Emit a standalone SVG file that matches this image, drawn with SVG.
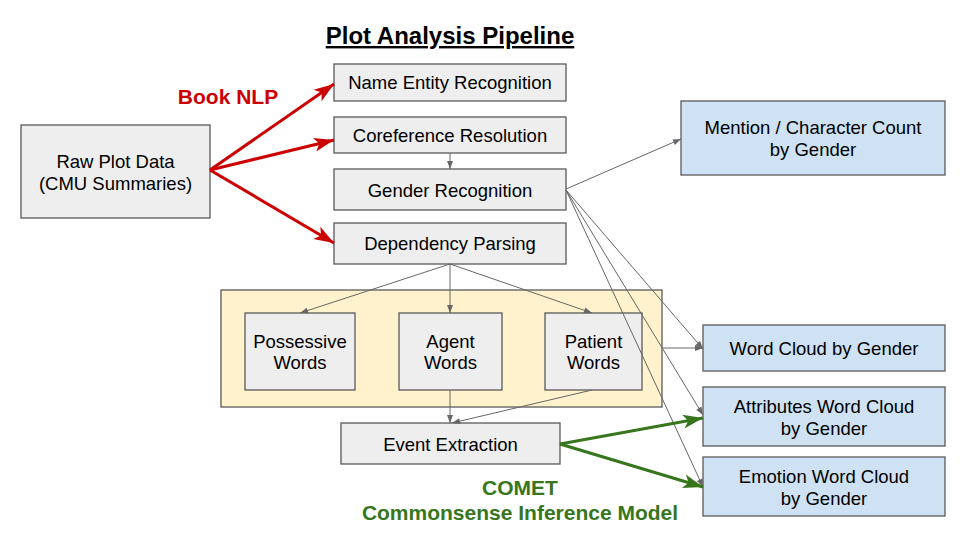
<svg xmlns="http://www.w3.org/2000/svg" width="960" height="540" viewBox="0 0 960 540">
<defs>
<style>
.n{fill:#eeeeee;stroke:#595959;stroke-width:1.3}
.b{fill:#cfe2f3;stroke:#595959;stroke-width:1.3}
.t{font-family:"Liberation Sans",Arial,sans-serif;font-size:18.5px;fill:#000;text-anchor:middle}
.g{stroke:#666;stroke-width:1;fill:none}
.r{stroke:#cc0000;stroke-width:3;fill:none}
.gr{stroke:#38761d;stroke-width:3;fill:none}
.lb{font-family:"Liberation Sans",Arial,sans-serif;font-size:21px;font-weight:bold;text-anchor:middle}
</style>
<marker id="ag" markerWidth="10" markerHeight="10" refX="9" refY="5" orient="auto" markerUnits="userSpaceOnUse"><path d="M1,2 L9,5 L1,8 Z" fill="#666"/></marker>
<marker id="ar" markerWidth="24" markerHeight="20" refX="22" refY="10" orient="auto" markerUnits="userSpaceOnUse"><path d="M2,3 L22,10 L2,17 L7,10 Z" fill="#cc0000"/></marker>
<marker id="agr" markerWidth="24" markerHeight="20" refX="22" refY="10" orient="auto" markerUnits="userSpaceOnUse"><path d="M2,3 L22,10 L2,17 L7,10 Z" fill="#38761d"/></marker>
</defs>
<rect width="960" height="540" fill="#fff"/>
<text x="450" y="44" font-family="Liberation Sans,Arial,sans-serif" font-size="24" font-weight="bold" text-anchor="middle" text-decoration="underline">Plot Analysis Pipeline</text>
<rect x="221" y="290" width="441" height="117" fill="#fff2cc" stroke="#595959" stroke-width="1.3"/>
<text class="lb" x="228" y="104" fill="#cc0000">Book NLP</text>
<text class="lb" x="520" y="495" fill="#38761d">COMET</text>
<text class="lb" x="520" y="520" fill="#38761d">Commonsense Inference Model</text>
<g id="raw"><rect class="n" x="21" y="125" width="189" height="93"/><text class="t" x="115.5" y="168">Raw Plot Data</text><text class="t" x="115.5" y="190">(CMU Summaries)</text></g>
<g id="ner"><rect class="n" x="334" y="64" width="232" height="37"/><text class="t" x="450" y="89">Name Entity Recognition</text></g>
<g id="coref"><rect class="n" x="334" y="117" width="232" height="36"/><text class="t" x="450" y="142">Coreference Resolution</text></g>
<g id="gender"><rect class="n" x="334" y="169" width="232" height="41"/><text class="t" x="450" y="197">Gender Recognition</text></g>
<g id="dep"><rect class="n" x="334" y="223" width="232" height="41"/><text class="t" x="450" y="250">Dependency Parsing</text></g>
<g id="poss"><rect class="n" x="245" y="313" width="110" height="77"/><text class="t" x="300" y="348">Possessive</text><text class="t" x="300" y="369">Words</text></g>
<g id="agent"><rect class="n" x="399" y="313" width="103" height="77"/><text class="t" x="450.5" y="348">Agent</text><text class="t" x="450.5" y="369">Words</text></g>
<g id="patient"><rect class="n" x="545" y="313" width="97" height="77"/><text class="t" x="593.5" y="348">Patient</text><text class="t" x="593.5" y="369">Words</text></g>
<g id="event"><rect class="n" x="341" y="423" width="219" height="41"/><text class="t" x="450.5" y="451">Event Extraction</text></g>
<g id="mention"><rect class="b" x="681" y="101" width="264" height="74"/><text class="t" x="813" y="134">Mention / Character Count</text><text class="t" x="813" y="156">by Gender</text></g>
<g id="wordcloud"><rect class="b" x="703" y="325" width="242" height="46"/><text class="t" x="824" y="355">Word Cloud by Gender</text></g>
<g id="attr"><rect class="b" x="703" y="387" width="242" height="59"/><text class="t" x="824" y="413">Attributes Word Cloud</text><text class="t" x="824" y="435">by Gender</text></g>
<g id="emotion"><rect class="b" x="703" y="457" width="242" height="59"/><text class="t" x="824" y="483">Emotion Word Cloud</text><text class="t" x="824" y="505">by Gender</text></g>
<g id="connectors">
<path class="r" d="M210,170 L334,84" marker-end="url(#ar)"/>
<path class="r" d="M210,170 L334,140" marker-end="url(#ar)"/>
<path class="r" d="M210,170 L334,243" marker-end="url(#ar)"/>
<path class="g" d="M450,153 L450,169" marker-end="url(#ag)"/>
<path class="g" d="M566,189 L681,139" marker-end="url(#ag)"/>
<path class="g" d="M566,190 L703,349" marker-end="url(#ag)"/>
<path class="g" d="M566,190 L703,415" marker-end="url(#ag)"/>
<path class="g" d="M566,190 L703,487" marker-end="url(#ag)"/>
<path class="g" d="M450,264 L300,313" marker-end="url(#ag)"/>
<path class="g" d="M450,264 L450,313" marker-end="url(#ag)"/>
<path class="g" d="M450,264 L592,313" marker-end="url(#ag)"/>
<path class="g" d="M662,348 L703,348" marker-end="url(#ag)"/>
<path class="g" d="M450,390 L450,423" marker-end="url(#ag)"/>
<path class="g" d="M592,390 L452,423" marker-end="url(#ag)"/>
<path class="gr" d="M560,444 L703,418" marker-end="url(#agr)"/>
<path class="gr" d="M560,444 L703,487" marker-end="url(#agr)"/>
</g>
</svg>
